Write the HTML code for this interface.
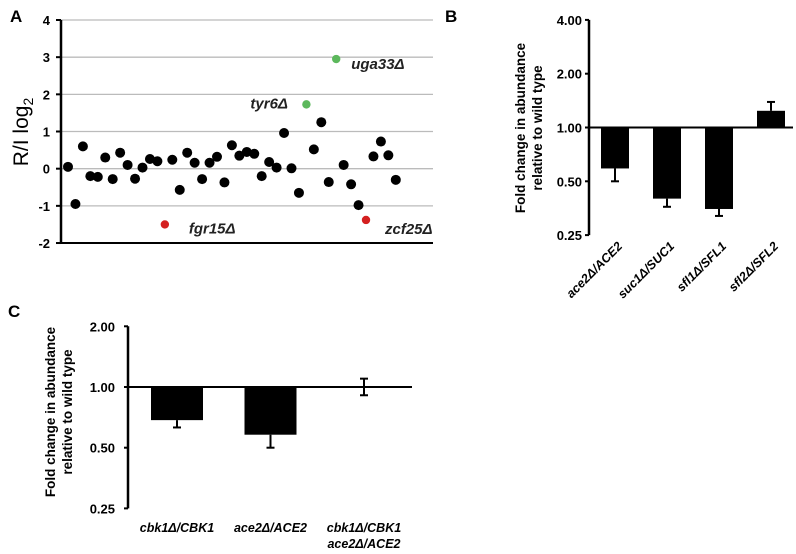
<!DOCTYPE html>
<html><head><meta charset="utf-8"><style>
html,body{margin:0;padding:0;background:#fff;}
svg{display:block;font-family:"Liberation Sans",Arial,sans-serif;}
</style></head><body>
<svg id="fig" width="796" height="554" viewBox="0 0 796 554">
<text x="10" y="22" font-size="17" font-weight="bold">A</text>
<text x="445" y="22" font-size="17" font-weight="bold">B</text>
<text x="8" y="317" font-size="17" font-weight="bold">C</text>
<g id="ga"></g>
<g id="gb"></g>
<g id="gc"></g>
</svg>
<script>
// Panel A data
const aValues=[0.05,-0.95,0.6,-0.2,-0.22,0.3,-0.28,0.43,0.1,-0.27,0.03,0.26,0.2,-1.5,0.24,-0.57,0.43,0.16,-0.28,0.16,0.32,-0.37,0.63,0.35,0.45,0.4,-0.2,0.18,0.03,0.96,0.01,-0.65,1.73,0.52,1.25,-0.36,2.95,0.1,-0.42,-0.98,-1.38,0.33,0.73,0.36,-0.3];
const aColors={13:'#d42020',40:'#d42020',32:'#5cb85c',36:'#5cb85c'};
const aLabels=[{i:13,t:'fgr15Δ',dx:24,dy:5},{i:40,t:'zcf25Δ',dx:19,dy:10},{i:32,t:'tyr6Δ',dx:-56,dy:0},{i:36,t:'uga33Δ',dx:15,dy:6}];
const aTicks=[4,3,2,1,0,-1,-2];
// Panel B data
const bCats=['ace2Δ/ACE2','suc1Δ/SUC1','sfl1Δ/SFL1','sfl2Δ/SFL2'];
const bVals=[0.59,0.40,0.35,1.24];
const bErr=[0.50,0.36,0.32,1.39];
const bTicks=[4,2,1,0.5,0.25];
// Panel C data
const cCats=[['cbk1Δ/CBK1'],['ace2Δ/ACE2'],['cbk1Δ/CBK1','ace2Δ/ACE2']];
const cVals=[0.685,0.58,1.0];
const cErrLo=[0.63,0.50,0.91];
const cErrHi=[0.685,0.58,1.1];
const cTicks=[2,1,0.5,0.25];

const NS='http://www.w3.org/2000/svg';
function mk(p,tag,at,txt){const e=document.createElementNS(NS,tag);for(const k in at)e.setAttribute(k,at[k]);if(txt!==undefined)e.textContent=txt;p.appendChild(e);return e;}

// ---- Panel A
const ga=document.getElementById('ga');
const ay=v=>20+(4-v)*37.17;
const ax=i=>68+i*7.45;
aTicks.forEach(t=>{
  const l=mk(ga,'line',{x1:61,x2:433,y1:ay(t),y2:ay(t),stroke:t===-2?'#000':'#bbb','stroke-width':t===-2?2:1.3});
  
  
  mk(ga,'line',{x1:56,x2:61,y1:ay(t),y2:ay(t),stroke:'#000','stroke-width':2});
  const tx=mk(ga,'text',{x:50,y:ay(t)+5,'text-anchor':'end','font-size':13,'font-weight':'bold'},String(t));
  
  
});
mk(ga,'line',{x1:61,x2:61,y1:ay(4),y2:ay(-2)+1,stroke:'#000','stroke-width':2.5});
const at=mk(ga,'text',{transform:'translate(28,132) rotate(-90)','text-anchor':'middle','font-size':21},'R/I log');
mk(at,'tspan',{'font-size':14,dy:5},'2');


aValues.forEach((v,i)=>{
  const c=aColors[i];
  const d=mk(ga,'circle',{cx:ax(i),cy:ay(v),r:c?4.2:5,fill:c||'#000'});
  
  
});
aLabels.forEach(L=>{
  const t=mk(ga,'text',{x:ax(L.i)+L.dx,y:ay(aValues[L.i])+L.dy+4,'font-size':15,'font-weight':'bold','font-style':'italic',fill:'#222'},L.t);
  
  
});

// ---- Panel B
const gb=document.getElementById('gb');
const by=v=>127.5-Math.log2(v)*53.8;
const bx0=589, bStep=52, bW=28;
mk(gb,'line',{x1:bx0,x2:bx0,y1:by(4),y2:by(0.25),stroke:'#000','stroke-width':2.5});
bTicks.forEach(t=>{
  mk(gb,'line',{x1:bx0-4,x2:bx0,y1:by(t),y2:by(t),stroke:'#000','stroke-width':2});
  const tx=mk(gb,'text',{x:bx0-7,y:by(t)+5,'text-anchor':'end','font-size':13,'font-weight':'bold'},t.toFixed(2));
  
  
});
const bt=mk(gb,'text',{transform:'translate(525,128) rotate(-90)','text-anchor':'middle','font-size':13.5,'font-weight':'bold'});
mk(bt,'tspan',{x:0,dy:0},'Fold change in abundance');
mk(bt,'tspan',{x:0,dy:17},'relative to wild type');


bCats.forEach((c,i)=>{
  const x=601+i*bStep, cx=x+bW/2;
  const y1=by(Math.max(1,bVals[i])), y2=by(Math.min(1,bVals[i]));
  const r=mk(gb,'rect',{x:x,y:y1,width:bW,height:y2-y1,fill:'#000'});
  
  
  const ey=by(bErr[i]), vy=by(bVals[i]);
  mk(gb,'line',{x1:cx,x2:cx,y1:vy,y2:ey,stroke:'#000','stroke-width':2});
  mk(gb,'line',{x1:cx-4,x2:cx+4,y1:ey,y2:ey,stroke:'#000','stroke-width':2});
  const lt=mk(gb,'text',{transform:`translate(${cx+8},247) rotate(-45)`,'text-anchor':'end','font-size':12.5,'font-weight':'bold','font-style':'italic'},c);
  
  
});
mk(gb,'line',{x1:bx0,x2:793,y1:by(1),y2:by(1),stroke:'#000','stroke-width':2});

// ---- Panel C
const gc=document.getElementById('gc');
const cy=v=>387-Math.log2(v)*60.7;
const cx0=128;
mk(gc,'line',{x1:cx0,x2:cx0,y1:cy(2),y2:cy(0.25),stroke:'#000','stroke-width':2.5});
cTicks.forEach(t=>{
  mk(gc,'line',{x1:cx0-4,x2:cx0,y1:cy(t),y2:cy(t),stroke:'#000','stroke-width':2});
  const tx=mk(gc,'text',{x:cx0-13,y:cy(t)+5,'text-anchor':'end','font-size':13,'font-weight':'bold'},t.toFixed(2));
  
  
});
const ct=mk(gc,'text',{transform:'translate(55,412) rotate(-90)','text-anchor':'middle','font-size':13.5,'font-weight':'bold'});
mk(ct,'tspan',{x:0,dy:0},'Fold change in abundance');
mk(ct,'tspan',{x:0,dy:17},'relative to wild type');


cCats.forEach((c,i)=>{
  const x=151+i*93.5, w=52, mx=x+w/2;
  if(cVals[i]!==1){
    const r=mk(gc,'rect',{x:x,y:cy(1),width:w,height:cy(cVals[i])-cy(1),fill:'#000'});
    
    
  }
  const lo=cy(cErrLo[i]), hi=cy(cErrHi[i]);
  mk(gc,'line',{x1:mx,x2:mx,y1:hi,y2:lo,stroke:'#000','stroke-width':2});
  mk(gc,'line',{x1:mx-4,x2:mx+4,y1:lo,y2:lo,stroke:'#000','stroke-width':2});
  if(cErrHi[i]!==cVals[i]) mk(gc,'line',{x1:mx-4,x2:mx+4,y1:hi,y2:hi,stroke:'#000','stroke-width':2});
  c.forEach((s,j)=>{
    const lt=mk(gc,'text',{x:mx,y:532+j*16,'text-anchor':'middle','font-size':12.5,'font-weight':'bold','font-style':'italic'},s);
    
    
  });
});
mk(gc,'line',{x1:cx0,x2:412,y1:cy(1),y2:cy(1),stroke:'#000','stroke-width':2});
</script>
</body></html>
